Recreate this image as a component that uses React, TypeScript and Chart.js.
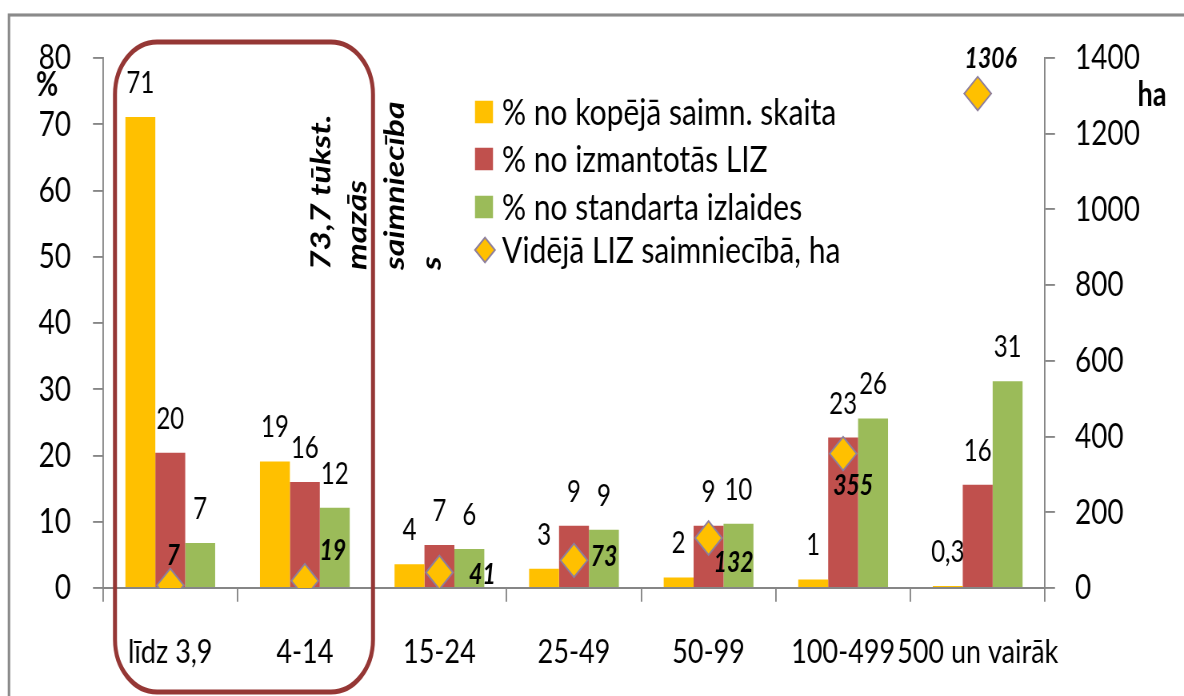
import React, { useEffect, useRef } from 'react';
import { Chart, registerables } from 'chart.js';

Chart.register(...registerables);

// ---------- data ----------
const categories = ['līdz 3,9', '4-14', '15-24', '25-49', '50-99', '100-499', '500 un vairāk'];
const shareOfFarms = [71.1, 19.1, 3.6, 2.9, 1.6, 1.3, 0.3];
const shareOfLand = [20.4, 16.0, 6.5, 9.4, 9.4, 22.7, 15.6];
const shareOfOutput = [6.8, 12.1, 5.9, 8.8, 9.7, 25.6, 31.2];
const avgLandHa = [7, 19, 41, 73, 132, 355, 1306];
const seriesNames = [
  '% no kopējā saimn. skaita',
  '% no izmantotās LIZ',
  '% no standarta izlaides',
  'Vidējā LIZ saimniecībā, ha',
];
const percentAxis = { min: 0, max: 80, step: 10 };
const haAxis = { min: 0, max: 1400, step: 200 };
const noteLines = ['73,7 tūkst.', 'mazās', 'saimniecība', 's'];

// ---------- styling ----------
const W = 1184;
const H_FULL = 696;
const H = 557;
const SY = H_FULL / H;
const FONT = 'Lato, "Noto Sans", sans-serif';
const YELLOW = '#FFC000';
const RED = '#C0504D';
const GREEN = '#9BBB59';
const AXIS = '#868686';
const DIAMOND_BORDER = '#8e7f9c';
const DIAMOND_LABEL_OFFSETS = [
  [3, -24], [28, -24], [43, 2], [30, -3], [25, 20], [10, 26], [13, -28],
];

const fmt = (v: number) => (v < 1 ? v.toFixed(1).replace('.', ',') : String(Math.round(v)));

const drawDiamond = (ctx: CanvasRenderingContext2D, x: number, y: number, r: number) => {
  ctx.beginPath();
  ctx.moveTo(x - r, y);
  ctx.lineTo(x, y - r);
  ctx.lineTo(x + r, y);
  ctx.lineTo(x, y + r);
  ctx.closePath();
  ctx.fillStyle = YELLOW;
  ctx.fill();
  ctx.lineWidth = 1.5;
  ctx.strokeStyle = DIAMOND_BORDER;
  ctx.stroke();
};

const overlayPlugin = {
  id: 'overlay',
  afterDraw(chart: any) {
    const ctx: CanvasRenderingContext2D = chart.ctx;
    ctx.save();

    // outer frame
    ctx.strokeStyle = '#8a8a8a';
    ctx.lineWidth = 2.5;
    ctx.strokeRect(9, 12, 1400, 900);

    // bar value labels
    ctx.fillStyle = '#000';
    ctx.font = `24px ${FONT}`;
    ctx.textAlign = 'center';
    ctx.textBaseline = 'middle';
    [0, 1, 2].forEach((di) => {
      const meta = chart.getDatasetMeta(di);
      const values = chart.data.datasets[di].data as number[];
      meta.data.forEach((el: any, i: number) => {
        ctx.fillText(fmt(values[i]), el.x, el.y - 27);
      });
    });

    // diamond labels
    ctx.font = `italic bold 23px ${FONT}`;
    const lm = chart.getDatasetMeta(3);
    const lv = chart.data.datasets[3].data as number[];
    lm.data.forEach((el: any, i: number) => {
      const [dx, dy] = DIAMOND_LABEL_OFFSETS[i];
      ctx.fillText(String(lv[i]), el.x + dx, el.y + dy);
    });

    // axis titles
    ctx.font = `bold 27px ${FONT}`;
    ctx.fillText('%', 47, 68);
    ctx.fillText('ha', 1152, 76);

    // rounded highlight box
    ctx.strokeStyle = '#953735';
    ctx.lineWidth = 4;
    ctx.beginPath();
    (ctx as any).roundRect(115, 33.6, 258, 520, 42);
    ctx.stroke();

    // rotated note
    ctx.fillStyle = '#000';
    ctx.font = `italic bold 27px ${FONT}`;
    ctx.textAlign = 'left';
    ctx.textBaseline = 'middle';
    const noteX = [322, 358, 395, 432];
    noteLines.forEach((t, i) => {
      ctx.save();
      ctx.translate(noteX[i], 216);
      ctx.rotate(-Math.PI / 2);
      ctx.fillText(t, 0, 0);
      ctx.restore();
    });

    // legend
    const colors = [YELLOW, RED, GREEN];
    const rowY = [89.6, 127.2, 165.6, 200];
    ctx.font = `30px ${FONT}`;
    ctx.textAlign = 'left';
    ctx.textBaseline = 'middle';
    seriesNames.forEach((name, i) => {
      if (i < 3) {
        ctx.fillStyle = colors[i];
        ctx.fillRect(475, rowY[i] - 9, 18, 18);
      } else {
        drawDiamond(ctx, 485, rowY[i], 10);
      }
      ctx.fillStyle = '#000';
      ctx.fillText(name, 502, rowY[i] + 1);
    });

    ctx.restore();
  },
};

export default function App() {
  const ref = useRef<HTMLCanvasElement | null>(null);

  useEffect(() => {
    if (!ref.current) return;
    const chart = new Chart(ref.current, {
      type: 'bar',
      data: {
        labels: categories,
        datasets: [
          { type: 'bar', label: seriesNames[0], data: shareOfFarms, backgroundColor: YELLOW, yAxisID: 'y', order: 1 },
          { type: 'bar', label: seriesNames[1], data: shareOfLand, backgroundColor: RED, yAxisID: 'y', order: 1 },
          { type: 'bar', label: seriesNames[2], data: shareOfOutput, backgroundColor: GREEN, yAxisID: 'y', order: 1 },
          {
            type: 'line',
            label: seriesNames[3],
            data: avgLandHa,
            yAxisID: 'y1',
            showLine: false,
            pointStyle: 'rectRot',
            pointRadius: 13.5,
            pointBackgroundColor: YELLOW,
            pointBorderColor: DIAMOND_BORDER,
            pointBorderWidth: 1.5,
            order: 0,
          } as any,
        ],
      },
      options: {
        responsive: false,
        animation: false,
        devicePixelRatio: 1.25,
        layout: { padding: { top: 46.4, left: 0, right: 0, bottom: 0 } },
        datasets: { bar: { categoryPercentage: 0.667, barPercentage: 1.0 } },
        plugins: { legend: { display: false }, tooltip: { enabled: false } },
        scales: {
          x: {
            grid: { display: true, drawOnChartArea: false, drawTicks: true, tickLength: 11, color: AXIS, lineWidth: 1.5, offset: true },
            border: { display: true, color: AXIS, width: 1.5 },
            ticks: { color: '#000', font: { family: FONT, size: 27 }, autoSkip: false, maxRotation: 0, minRotation: 0, padding: 24 },
            afterFit: (s: any) => { s.height = H - 470.4; },
          },
          y: {
            position: 'left',
            min: percentAxis.min,
            max: percentAxis.max,
            grid: { drawOnChartArea: false, drawTicks: true, tickLength: 10, color: AXIS, lineWidth: 1.5 },
            border: { display: true, color: AXIS, width: 1.5 },
            ticks: { stepSize: percentAxis.step, color: '#000', font: { family: FONT, size: 28 }, padding: 22, callback: (v: any) => String(v) },
            afterFit: (s: any) => { s.width = 103; },
          },
          y1: {
            position: 'right',
            min: haAxis.min,
            max: haAxis.max,
            grid: { drawOnChartArea: false, drawTicks: true, tickLength: 10, color: AXIS, lineWidth: 1.5 },
            border: { display: true, color: AXIS, width: 1.5 },
            ticks: { stepSize: haAxis.step, color: '#000', font: { family: FONT, size: 28 }, padding: 20, callback: (v: any) => String(v) },
            afterFit: (s: any) => { s.width = W - 1045; },
          },
        },
      } as any,
      plugins: [overlayPlugin],
    });
    return () => chart.destroy();
  }, []);

  return (
    <div style={{ position: 'fixed', left: 0, top: 0, width: W, height: H_FULL, overflow: 'hidden', background: '#fff' }}>
      <canvas
        ref={ref}
        width={W}
        height={H}
        style={{
          position: 'absolute',
          left: 0,
          top: 0,
          width: `${W}px`,
          height: `${H}px`,
          transform: `scaleY(${SY})`,
          transformOrigin: '0 0',
        }}
      />
    </div>
  );
}
